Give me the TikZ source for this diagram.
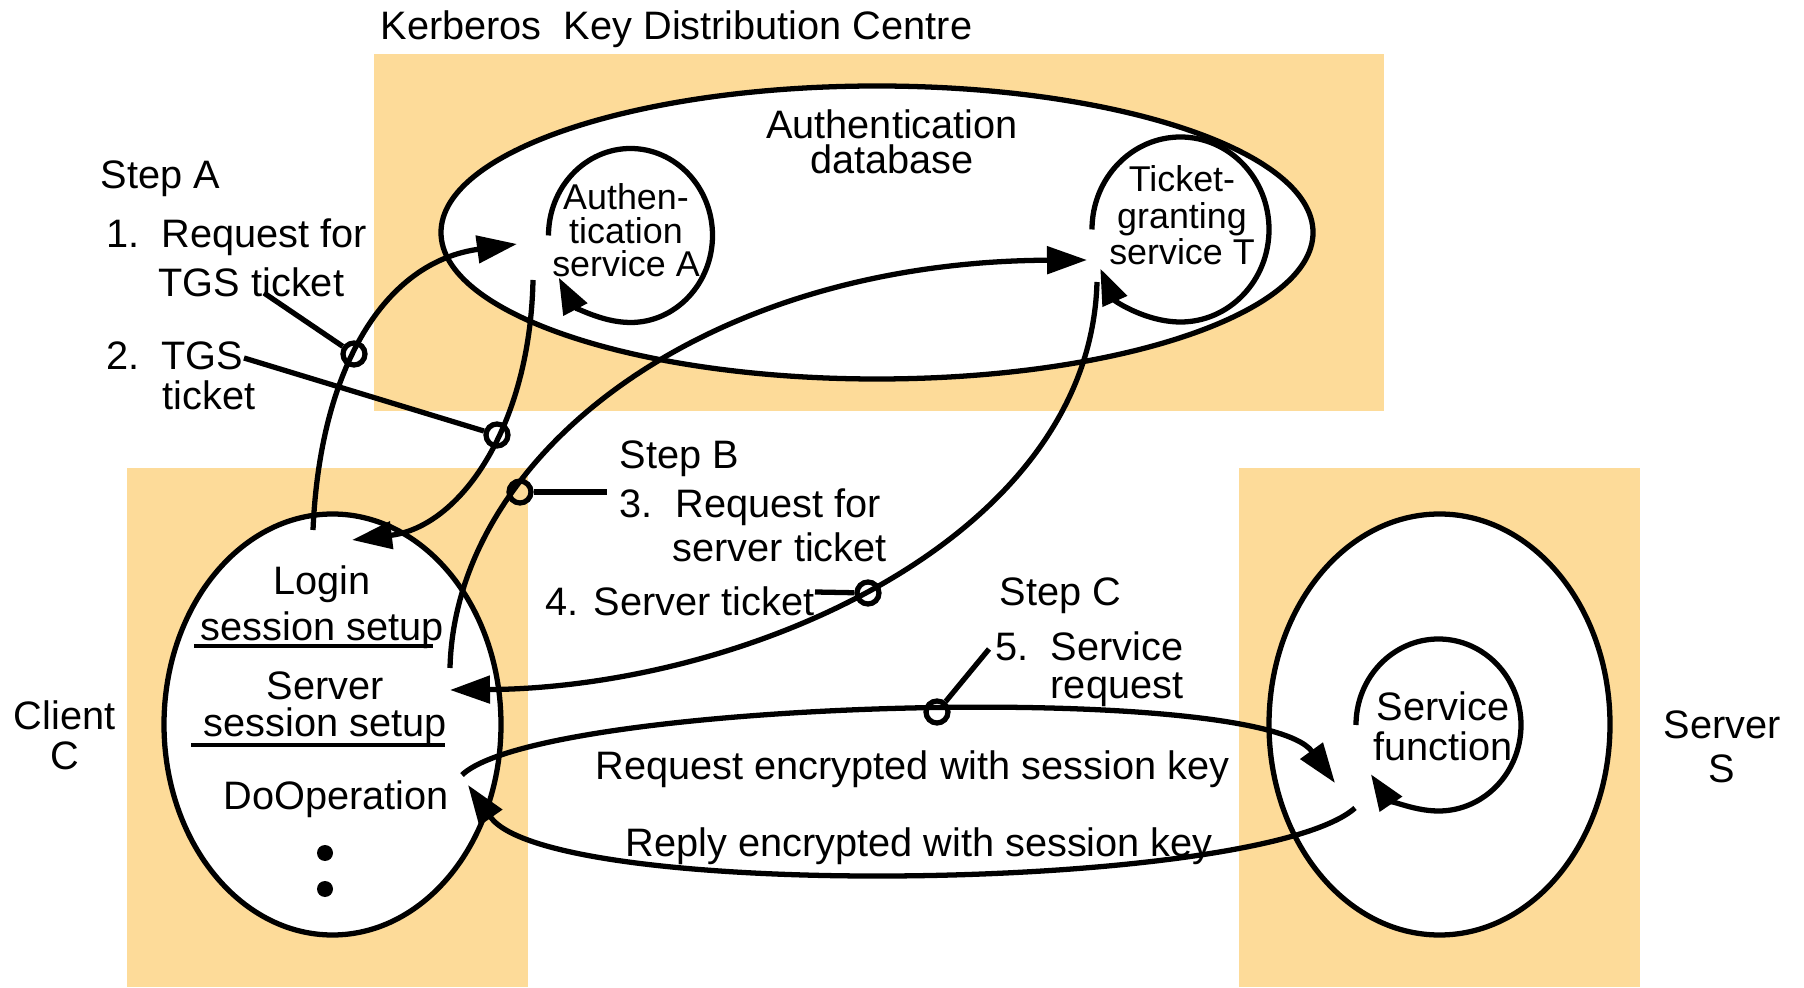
\documentclass[tikz,border=0pt]{standalone}
\usepackage{fontspec}
\setmainfont{Liberation Sans}
\usetikzlibrary{arrows.meta,shapes.geometric}
\definecolor{kdcfill}{RGB}{253,219,153}

\begin{document}
\begin{tikzpicture}[
    txt/.style={font=\fontsize{11.3}{13.6}\selectfont, inner sep=0pt},
    small/.style={font=\fontsize{10.2}{9.6}\selectfont, inner sep=0pt, align=center},
    oval/.style={ellipse, draw, line width=1.5pt, fill=white, inner sep=0pt},
    flow/.style={line width=1.5pt, -{Triangle[length=0.40cm,width=0.27cm]}},
    cyc/.style={line width=1.5pt, -{Triangle[length=0.36cm,width=0.26cm]}},
    msg/.style={circle, draw, line width=1.5pt, minimum size=0.22cm, inner sep=0pt},
    lead/.style={line width=1.5pt},
    uline/.style={line width=1.2pt}
  ]
    \useasboundingbox (0,0) rectangle (18.04,9.87);

    % --------------------
    % Fundos
    % --------------------
    \fill[kdcfill] (3.74,5.76) rectangle (13.84,9.33);
    \fill[kdcfill] (1.27,0) rectangle (5.28,5.19);
    \fill[kdcfill] (12.39,0) rectangle (16.40,5.19);

    % --------------------
    % KDC, cliente e servidor
    % --------------------
    \node[oval, minimum width=8.72cm, minimum height=2.93cm] (kdc) at (8.77,7.545) {};
    \node[oval, minimum width=3.37cm, minimum height=4.21cm] (client) at (3.325,2.625) {};
    \node[oval, minimum width=3.41cm, minimum height=4.21cm] (server) at (14.395,2.625) {};

    \coordinate (authc) at (6.305,7.515);
    \coordinate (tgsc) at (11.805,7.575);
    \coordinate (svcc) at (14.385,2.62);

    \draw[cyc] (authc) ++(180:0.82 and 0.87)
        arc[start angle=180, end angle=-151, x radius=0.82, y radius=0.87];
    \draw[cyc] (tgsc) ++(180:0.885 and 0.925)
        arc[start angle=180, end angle=-155, x radius=0.885, y radius=0.925];
    \draw[cyc] (svcc) ++(180:0.825 and 0.86)
        arc[start angle=180, end angle=-145, x radius=0.825, y radius=0.86];

    % --------------------
    % Textos
    % --------------------
    \node[txt, anchor=base west] (title) at (3.80,9.47) {Kerberos\ \ Key Distribution Centre};
    \node[txt, align=center, anchor=base, font=\fontsize{11.3}{10}\selectfont] (adb) at (8.92,8.13) {Authentication\\database};
    \node[small, anchor=base] (auth) at (6.26,7.10) {Authen-\\tication\\service A};
    \node[small, anchor=base, font=\fontsize{10.2}{10.4}\selectfont] (tgs) at (11.82,7.22) {Ticket-\\granting\\service T};
    \node[txt, align=center, anchor=base, font=\fontsize{11.3}{11.4}\selectfont] (svc) at (14.43,2.26) {Service\\function};

    \node[txt, align=center, anchor=base, font=\fontsize{11.3}{13.1}\selectfont] (login) at (3.22,3.46) {Login\\session setup};
    \node[txt, align=center, anchor=base, font=\fontsize{11.3}{10.8}\selectfont] (ssetup) at (3.25,2.50) {Server\\session setup};
    \node[txt, anchor=base] (doop) at (3.36,1.77) {DoOperation};
    \draw[uline] (1.94,3.41) -- (4.33,3.41);
    \draw[uline] (1.91,2.42) -- (4.45,2.42);
    \fill (3.25,1.34) circle[radius=0.08];
    \fill (3.25,0.98) circle[radius=0.08];

    \node[txt, align=center, anchor=base, font=\fontsize{11.3}{11.4}\selectfont] (clientlbl) at (0.645,2.17) {Client\\C};
    \node[txt, align=center, anchor=base, font=\fontsize{11.3}{12.6}\selectfont] (serverlbl) at (17.22,2.045) {Server\\S};

    \node[txt, anchor=base west] (stepA) at (1.00,7.98) {Step A};
    \node[txt, align=left, anchor=base west, font=\fontsize{11.3}{14}\selectfont] (req1) at (1.06,6.90)
        {\makebox[0.55cm][l]{1.}Request for\\\hspace*{0.52cm}TGS ticket};
    \node[txt, align=left, anchor=base west, font=\fontsize{11.3}{11.4}\selectfont] (tgs2) at (1.06,5.77)
        {\makebox[0.55cm][l]{2.}TGS\\\hspace*{0.56cm}ticket};
    \node[txt, anchor=base west] (stepB) at (6.19,5.18) {Step B};
    \node[txt, align=left, anchor=base west, font=\fontsize{11.3}{12.8}\selectfont] (req3) at (6.19,4.25)
        {\makebox[0.56cm][l]{3.}Request for\\\hspace*{0.53cm}server ticket};
    \node[txt, anchor=base west] (tick4) at (5.45,3.71) {4. Server ticket};
    \node[txt, anchor=base west] (stepC) at (9.99,3.81) {Step C};
    \node[txt, align=left, anchor=base west, font=\fontsize{11.3}{11}\selectfont] (req5) at (9.95,2.88)
        {\makebox[0.55cm][l]{5.}Service\\\hspace*{0.55cm}request};
    \node[txt, anchor=base west] (reqenc) at (5.95,2.07) {Request encrypted with session key};
    \node[txt, anchor=base west] (repenc) at (6.25,1.30) {Reply encrypted with session key};

    % --------------------
    % Mensagens
    % --------------------
    \coordinate (aS) at (3.13,4.57);   \coordinate (aE) at (5.17,7.43);
    \coordinate (bS) at (5.33,7.07);   \coordinate (bE) at (3.52,4.47);
    \coordinate (cS) at (4.50,3.19);   \coordinate (cE) at (10.87,7.27);
    \coordinate (dS) at (10.97,7.05);  \coordinate (dE) at (4.50,2.97);
    \coordinate (eS) at (4.62,2.12);   \coordinate (eE) at (13.35,2.04);
    \coordinate (fS) at (13.55,1.79);  \coordinate (fE) at (4.68,2.02);

    \draw[flow] (aS) .. controls (3.2,6.2) and (3.85,7.25) .. (aE);
    \draw[flow] (bS) .. controls (5.3,5.6) and (4.6,4.6) .. (bE);
    \draw[flow] (cS) .. controls (4.55,5.3) and (7.0,7.25) .. (cE);
    \draw[flow] (dS) .. controls (10.9,4.5) and (7.5,3.0) .. (dE);
    \draw[flow] (eS) .. controls (5.4,2.87) and (12.6,3.07) .. (eE);
    \draw[flow] (fS) .. controls (12.6,0.95) and (5.5,0.85) .. (fE);

    % marcadores e chamadas
    \node[msg] (m1) at (3.54,6.33) {};
    \node[msg] (m2) at (4.97,5.52) {};
    \node[msg] (m3) at (5.20,4.95) {};
    \node[msg] (m4) at (8.68,3.94) {};
    \node[msg] (m5) at (9.37,2.75) {};

    \coordinate (l1) at (2.64,6.94);
    \coordinate (l2) at (2.44,6.29);
    \coordinate (l3) at (6.07,4.95);
    \coordinate (l4) at (8.15,3.95);
    \coordinate (l5) at (9.89,3.38);

    \draw[lead] (m1) -- (l1);
    \draw[lead] (m2) -- (l2);
    \draw[lead] (m3) -- (l3);
    \draw[lead] (m4) -- (l4);
    \draw[lead] (m5) -- (l5);

\end{tikzpicture}
\end{document}
